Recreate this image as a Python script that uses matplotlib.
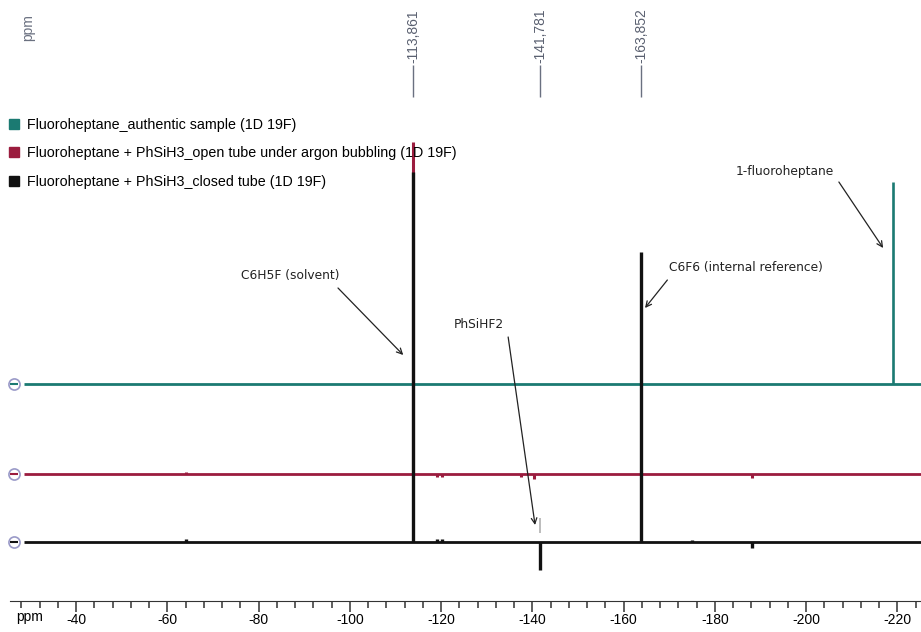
import numpy as np
import matplotlib.pyplot as plt
from matplotlib.lines import Line2D

plt.rcParams['font.family'] = ['Liberation Sans', 'DejaVu Sans']
plt.rcParams['axes.unicode_minus'] = False

# 19F NMR stack: peak positions (ppm) and intensities (a.u.) per spectrum
labels = ["Fluoroheptane_authentic sample (1D 19F)",
          "Fluoroheptane + PhSiH3_open tube under argon bubbling (1D 19F)",
          "Fluoroheptane + PhSiH3_closed tube (1D 19F)"]
colors = ['#1b7a72', '#9b1c3e', '#111111']
offsets = [217, 127, 59]

teal_ppm = [-219.1]
teal_int = [202]
red_ppm = [-113.861, -64.0, -119.0, -120.2, -137.6, -140.3, -163.852, -188.1]
red_int = [332, 2, -3, -3, -3, -5, 4, -4]
black_ppm = [-113.861, -163.852, -141.781, -64.0, -119.0, -120.2, -175.0, -188.1]
black_int = [370, 290, -28, 3, 3, 3, 2, -6]

ref_ppm = [-113.861, -141.781, -163.852]
ref_text = ['-113,861', '-141,781', '-163,852']

x_left, x_right = -25.5, -225.2

fig = plt.figure(figsize=(9.21, 6.32), dpi=100)
ax = fig.add_axes([10/921, 31/632, 911/921, 601/632])
ax.set_xlim(x_left, x_right)
ax.set_ylim(0, 601)

spectra = [(teal_ppm, teal_int), (red_ppm, red_int), (black_ppm, black_int)]
widths = [1.9, 2.2, 2.4]
for i, (pp, ii) in enumerate(spectra):
    off = offsets[i]
    ax.plot([-28.5, x_right], [off, off], color=colors[i], lw=2, zorder=2 + i, solid_capstyle='butt')
    ax.vlines(pp, off, off + np.array(ii), color=colors[i], lw=widths[i], zorder=2 + i)
    # little start marker at left of each trace
    ax.plot([-26.4], [off], marker='o', ms=8, mfc='white', mec='#9a9ac8', mew=1.2, zorder=6, clip_on=False)
    ax.plot([-26.4], [off], marker='_', ms=6, mew=1.5, color=colors[i], zorder=7, clip_on=False)

# peak picking marks at the top
for p, t in zip(ref_ppm, ref_text):
    ax.vlines(p, 504, 536, color='#6a7080', lw=1)
    ax.text(p, 538, t, rotation=90, ha='center', va='bottom', fontsize=10, color='#5a6070')
ax.vlines(-141.781, 68, 83, color='#b0b0b0', lw=1.2)
ax.text(-29.5, 573, 'ppm', rotation=90, ha='center', va='center', fontsize=10, color='#6a7080')

# annotations
ann = dict(fontsize=8.8, family='DejaVu Sans', color='#222222')
arrow = dict(arrowstyle='->', color='#222222', lw=0.9, shrinkA=0, shrinkB=0)
ax.text(-86.9, 325, 'C6H5F (solvent)', ha='center', va='center', **ann)
ax.annotate('', xy=(-111.7, 246), xytext=(-97.4, 313), arrowprops=arrow)
ax.text(-128.2, 276, 'PhSiHF2', ha='center', va='center', **ann)
ax.annotate('', xy=(-140.6, 76), xytext=(-134.7, 264), arrowprops=arrow)
ax.text(-170.0, 333, 'C6F6 (internal reference)', ha='left', va='center', **ann)
ax.annotate('', xy=(-164.7, 293), xytext=(-169.6, 321), arrowprops=arrow)
ax.text(-195.4, 430, '1-fluoroheptane', ha='center', va='center', **ann)
ax.annotate('', xy=(-216.9, 353), xytext=(-207.2, 419), arrowprops=arrow)

# axis styling
for s in ['top', 'left', 'right']:
    ax.spines[s].set_visible(False)
ax.spines['bottom'].set_color('#333333')
ax.set_yticks([])
ax.set_xticks(np.arange(-40, -221, -20))
ax.set_xticks(np.arange(-28, -225, -4), minor=True)
ax.tick_params(axis='x', which='major', length=8, width=1.1, color='#333333', labelsize=10, pad=1)
ax.tick_params(axis='x', which='minor', length=5, width=1.1, color='#333333')
fig.text(30/921, 1 - 617/632, 'ppm', ha='center', va='center', fontsize=10)

handles = [Line2D([], [], marker='s', ls='none', color=c, ms=7) for c in colors]
ax.legend(handles, labels, loc='upper left', bbox_to_anchor=(0.0, 1 - 118/601),
          frameon=False, fontsize=10.3, handlelength=0.6, handletextpad=0.6,
          labelspacing=1.0, borderaxespad=0, borderpad=0)

fig.savefig('out.png', dpi=100)
